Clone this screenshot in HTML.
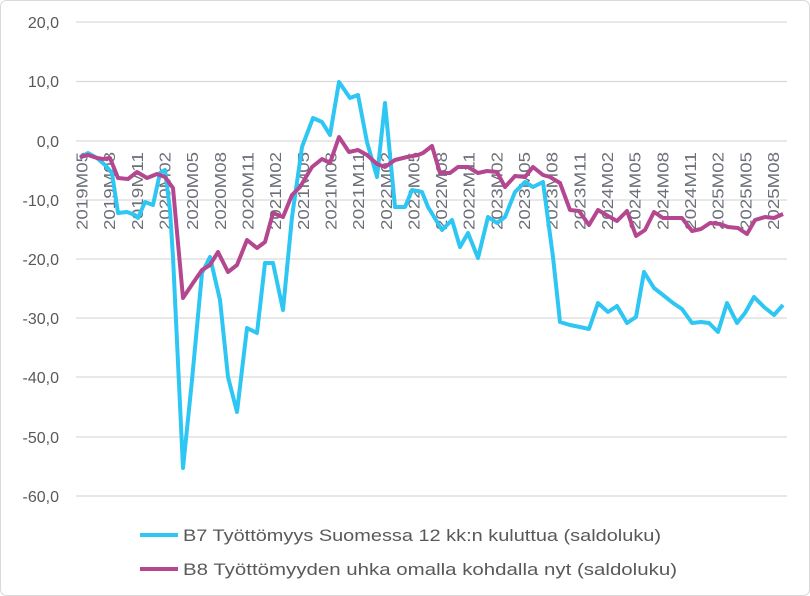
<!DOCTYPE html>
<html><head><meta charset="utf-8"><style>
body{margin:0;background:#fff;}
svg{display:block;font-family:"Liberation Sans",sans-serif;}
</style></head><body>
<svg width="810" height="596" viewBox="0 0 810 596">
<rect x="0.5" y="0.5" width="809" height="595" rx="6" fill="#fff" stroke="#d9d9d9"/>
<g stroke="#d9d9d9" stroke-width="1.3">
<line x1="76" x2="787" y1="22" y2="22"/><line x1="76" x2="787" y1="81.5" y2="81.5"/>
<line x1="76" x2="787" y1="141" y2="141"/><line x1="76" x2="787" y1="200" y2="200"/>
<line x1="76" x2="787" y1="259" y2="259"/><line x1="76" x2="787" y1="318" y2="318"/>
<line x1="76" x2="787" y1="377" y2="377"/><line x1="76" x2="787" y1="437" y2="437"/>
<line x1="76" x2="787" y1="496" y2="496"/>
</g>
<g fill="#595959" font-size="16" text-anchor="end">
<text x="59" y="28">20,0</text><text x="59" y="87">10,0</text><text x="59" y="147">0,0</text>
<text x="59" y="206">-10,0</text><text x="59" y="265">-20,0</text><text x="59" y="324">-30,0</text>
<text x="59" y="383">-40,0</text><text x="59" y="443">-50,0</text><text x="59" y="502">-60,0</text>
</g>
<g fill="#6b6f78" font-size="15.5" text-anchor="end" id="xl"></g>
<polyline fill="none" stroke="#2ec6f2" stroke-width="4" stroke-linejoin="round" points="80,158 88,153 97,158 105,165 112,173 118,213 127,212 135,215 138,218 145,202 153,205 160,173 165,170 170,210 173,257 183,468 192,380 202,273 210,257 220,300 228,377 237,412 247,328 257,333 265,263 273,263 283,310 292,217 302,147 313,118 322,122 330,135 339,82 350,98 358,95 367,142 377,177 385,103 395,207 405,207 412,190 422,192 428,207 442,230 452,220 460,247 468,233 478,258 488,217 497,223 505,217 515,192 525,182 533,187 543,182 553,257 560,322 570,325 580,327 589,329 598,303 608,312 617,306 627,323 636,317 644,272 654,288 663,295 673,303 682,309 692,323 701,322 709,323 718,332 727,303 737,323 745,313 754,297 764,307 774,315 783,305"/>
<polyline fill="none" stroke="#b4478f" stroke-width="4" stroke-linejoin="round" points="80,157 88,155 97,158 103,159 110,158 118,178 128,179 137,172 147,178 157,174 165,177 173,188 183,298 193,283 202,270 210,265 218,252 228,272 237,265 247,240 257,248 265,242 273,213 283,217 292,195 300,187 312,167 322,159 330,163 339,137 349,152 358,150 367,155 377,164 385,167 395,160 407,157 418,155 423,153 432,146 440,173 450,173 458,167 468,167 478,173 487,171 497,172 505,187 515,176 525,177 533,167 543,175 550,177 560,183 570,210 579,211 589,225 598,210 608,216 617,221 627,211 636,236 645,230 654,212 663,218 673,218 682,218 692,231 701,229 710,223 720,224 728,227 738,228 747,234 755,220 765,217 774,218 783,214"/>
<line x1="140" x2="178" y1="535" y2="535" stroke="#2ec6f2" stroke-width="4"/>
<line x1="140" x2="178" y1="569" y2="569" stroke="#b4478f" stroke-width="4"/>
<g fill="#595959" font-size="17">
<text x="183" y="541" textLength="478" lengthAdjust="spacingAndGlyphs">B7 Työttömyys Suomessa 12 kk:n kuluttua (saldoluku)</text>
<text x="183" y="575" textLength="494" lengthAdjust="spacingAndGlyphs">B8 Työttömyyden uhka omalla kohdalla nyt (saldoluku)</text>
</g>
</svg>
<script>
var g=document.getElementById('xl'),s='';
for(var i=0;i<=75;i+=3){var y=2019+Math.floor((4+i)/12),m=((4+i)%12)+1;
var x=82+9.22*i+5.5;var lab=y+'M'+(m<10?'0':'')+m;
s+='<text transform="translate('+x.toFixed(1)+',152) rotate(-90)" textLength="78" lengthAdjust="spacingAndGlyphs">'+lab+'</text>';}
g.innerHTML=s;
</script>
</body></html>
